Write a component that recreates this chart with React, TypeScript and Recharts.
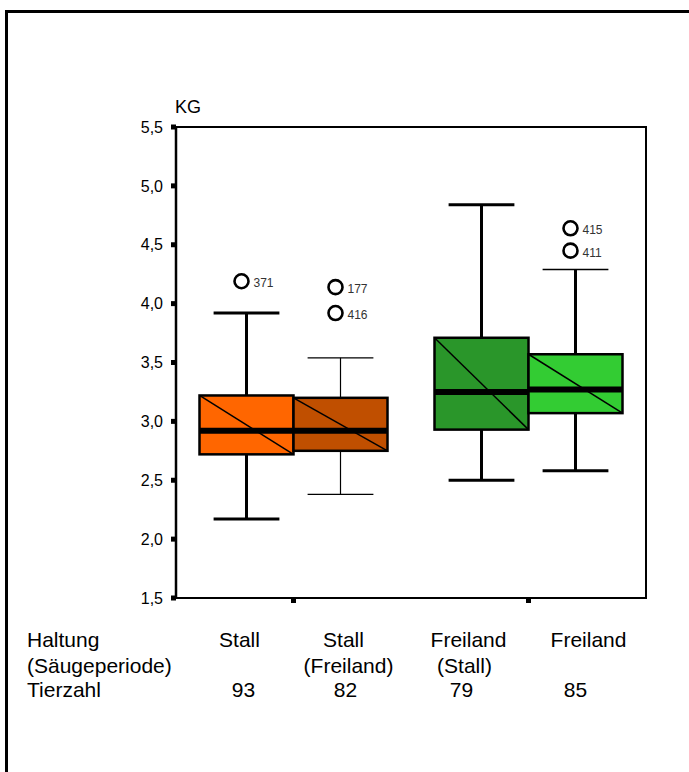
import { ComposedChart, Bar, XAxis, YAxis, ReferenceArea } from "recharts";

// x-axis groups (Haltung)
const categories = ["Stall", "Freiland"];

// one entry per box: Stall/Stall, Stall/Freiland, Freiland/Stall, Freiland/Freiland
const whiskerLow = [2.17, 2.38, 2.5, 2.58];
const q1 = [2.72, 2.75, 2.93, 3.07];
const median = [2.92, 2.92, 3.25, 3.27];
const q3 = [3.22, 3.2, 3.71, 3.57];
const whiskerHigh = [3.92, 3.54, 4.84, 4.29];
const outlierValues = [[4.19], [4.14, 3.92], [], [4.64, 4.45]];
const outlierIds = [["371"], ["177", "416"], [], ["415", "411"]];

// table under the chart
const rowHeaders = ["Haltung", "(Säugeperiode)", "Tierzahl"];
const haltungLabels = ["Stall", "Stall", "Freiland", "Freiland"];
const saeugeLabels = ["", "(Freiland)", "(Stall)", ""];
const tierzahl = ["93", "82", "79", "85"];

const yTicks = [1.5, 2, 2.5, 3, 3.5, 4, 4.5, 5, 5.5];

const boxColors = ["#FF6600", "#C04F00", "#2A962A", "#33CC33"];
const whiskerStroke = [3, 1.2, 3, 3];
const topCapStroke = [3, 1.2, 3, 1.4];
const labelShift = [
  [-7, 2, -3],
  [3, 8, 5],
  [-13, -17, -20],
  [13, 0, 0],
];

const data = categories.map((name, idx) => ({
  name,
  idx,
  a: [whiskerLow[idx * 2], whiskerHigh[idx * 2]],
  b: [whiskerLow[idx * 2 + 1], whiskerHigh[idx * 2 + 1]],
}));

const font = "Liberation Sans, Arial, sans-serif";

function makeBox(series: number) {
  return (props: any) => {
    const { x, y, width, height, payload } = props;
    const i = payload.idx * 2 + series;
    const lo = whiskerLow[i];
    const hi = whiskerHigh[i];
    const top = Math.min(y, y + height);
    const bot = Math.max(y, y + height);
    const k = (bot - top) / (hi - lo);
    const py = (v: number) => top + (hi - v) * k;
    const cx = x + width / 2;
    const capW = width * 0.7;
    const yq3 = py(q3[i]);
    const yq1 = py(q1[i]);
    return (
      <g>
        <line x1={cx} x2={cx} y1={py(hi)} y2={yq3} stroke="#000" strokeWidth={whiskerStroke[i]} />
        <line x1={cx} x2={cx} y1={yq1} y2={py(lo)} stroke="#000" strokeWidth={whiskerStroke[i]} />
        <line x1={cx - capW / 2} x2={cx + capW / 2} y1={py(hi)} y2={py(hi)} stroke="#000" strokeWidth={topCapStroke[i]} />
        <line x1={cx - capW / 2} x2={cx + capW / 2} y1={py(lo)} y2={py(lo)} stroke="#000" strokeWidth={whiskerStroke[i]} />
        <rect x={x} y={yq3} width={width} height={yq1 - yq3} fill={boxColors[i]} stroke="#000" strokeWidth={2.5} />
        <line x1={x} y1={yq3} x2={x + width} y2={yq1} stroke="#000" strokeWidth={1.5} />
        <line x1={x} x2={x + width} y1={py(median[i])} y2={py(median[i])} stroke="#000" strokeWidth={6} />
        {outlierValues[i].map((v, j) => (
          <g key={j}>
            <circle cx={cx - 5} cy={py(v)} r={7} fill="#fff" stroke="#000" strokeWidth={2.6} />
            <text x={cx + 7} y={py(v) + 6} fontSize={12} fill="#333" fontFamily={font}>
              {outlierIds[i][j]}
            </text>
          </g>
        ))}
      </g>
    );
  };
}

function TableTick(props: any) {
  const { x, y, payload, index } = props;
  const half = 47;
  const rows = [haltungLabels, saeugeLabels, tierzahl];
  const baselines = [y + 42, y + 68, y + 92];
  return (
    <g fontFamily={font} fontSize={21} fill="#000">
      {index === 0 &&
        rowHeaders.map((h, r) => (
          <text key={h} x={27} y={baselines[r]} fill="#000">
            {h}
          </text>
        ))}
      {[0, 1].map((s) => {
        const i = payload.index * 2 + s;
        const bx = x + (s === 0 ? -half : half);
        return rows.map((row, r) => (
          <text key={`${s}-${r}`} x={bx + labelShift[i][r]} y={baselines[r]} textAnchor="middle" fill="#000">
            {row[i]}
          </text>
        ));
      })}
    </g>
  );
}

export default function App() {
  return (
    <div
      style={{
        position: "fixed",
        left: 0,
        top: 0,
        width: 689,
        height: 772,
        overflow: "hidden",
        background: "#fff",
      }}
    >
      <div
        style={{
          position: "absolute",
          left: 5,
          top: 10,
          width: 900,
          height: 900,
          border: "3px solid #000",
        }}
      />
      <div style={{ position: "absolute", left: 0, top: 0 }}>
        <ComposedChart
          width={689}
          height={772}
          data={data}
          margin={{ top: 127, right: 43, left: 116, bottom: 144 }}
          barCategoryGap="10%"
          barGap={0}
        >
          <ReferenceArea y1={1.5} y2={5.5} fill="none" stroke="#000" strokeWidth={2} ifOverflow="visible" />
          <XAxis
            dataKey="name"
            height={30}
            axisLine={{ stroke: "#000", strokeWidth: 2 }}
            tickLine={{ stroke: "#000", strokeWidth: 5 }}
            tickSize={5}
            tick={<TableTick />}
            interval={0}
          />
          <YAxis
            width={60}
            domain={[1.5, 5.5]}
            ticks={yTicks}
            allowDataOverflow
            tickFormatter={(v: number) => v.toFixed(1).replace(".", ",")}
            axisLine={{ stroke: "#000", strokeWidth: 2.5 }}
            tickLine={{ stroke: "#000", strokeWidth: 5 }}
            tickSize={5}
            tickMargin={8}
            tick={{ fill: "#000", fontSize: 16, fontFamily: font }}
            label={{
              content: (p: any) => (
                <text x={p.viewBox.x + p.viewBox.width - 1} y={p.viewBox.y - 14} fontSize={18} fontFamily={font} fill="#000">
                  KG
                </text>
              ),
            }}
          />
          <Bar dataKey="a" shape={makeBox(0)} isAnimationActive={false} />
          <Bar dataKey="b" shape={makeBox(1)} isAnimationActive={false} />
        </ComposedChart>
      </div>
    </div>
  );
}
